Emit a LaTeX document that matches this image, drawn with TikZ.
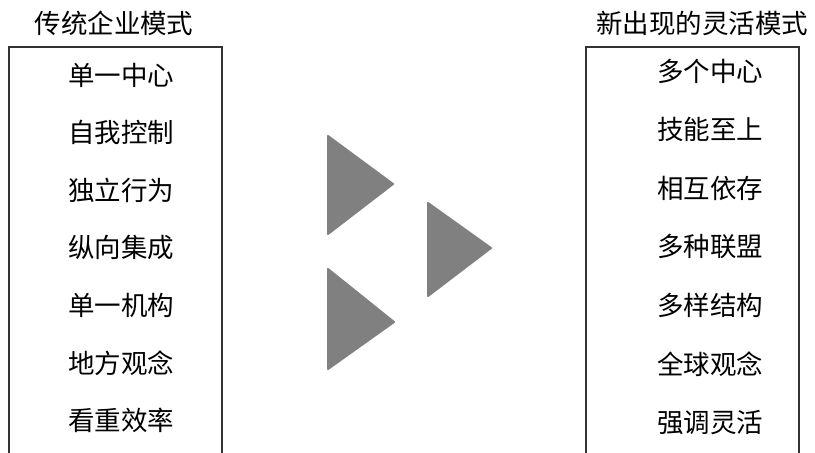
\documentclass[tikz,border=0pt]{standalone}
\usepackage{fontspec}
\newfontfamily\cjk{Noto Sans CJK SC}
\usetikzlibrary{calc}
\definecolor{boxline}{HTML}{333333}
\definecolor{trigray}{HTML}{808080}
\tikzset{
  item/.style={font=\cjk\fontsize{26.5}{30}\selectfont, inner sep=0pt, anchor=center},
  title/.style={font=\cjk\fontsize{26.5}{30}\selectfont, inner sep=0pt, anchor=center},
  frame/.style={draw=boxline, line width=1.5pt},
  tri/.style={fill=trigray, draw=trigray, line width=2pt, line join=round}
}
\begin{document}
\begin{tikzpicture}[x=1pt,y=-1pt]
\useasboundingbox (0,0) rectangle (815,453);
% titles
\node[title] (tl) at (114,23) {传统企业模式};
\node[title] (tr) at (702,23) {新出现的灵活模式};
% frames (open at the bottom)
\draw[frame] (9,460) -- (9,47) -- (222,47) -- (222,460);
\draw[frame] (586,460) -- (586,47) -- (799,47) -- (799,460);
% left items
\foreach \t [count=\i] in {单一中心,自我控制,独立行为,纵向集成,单一机构,地方观念,看重效率}{
  \node[item] (l\i) at (121,{75+57.6*(\i-1)}) {\t};
}
% right items
\foreach \t [count=\i] in {多个中心,技能至上,相互依存,多种联盟,多样结构,全球观念,强调灵活}{
  \node[item] (r\i) at (710,{71+58.6*(\i-1)}) {\t};
}
% triangles
\filldraw[tri] (328,136) -- (393,184) -- (328,234) -- cycle;
\filldraw[tri] (428,203) -- (491,248) -- (428,296) -- cycle;
\filldraw[tri] (328,269) -- (394,322) -- (328,369) -- cycle;
\end{tikzpicture}
\end{document}
